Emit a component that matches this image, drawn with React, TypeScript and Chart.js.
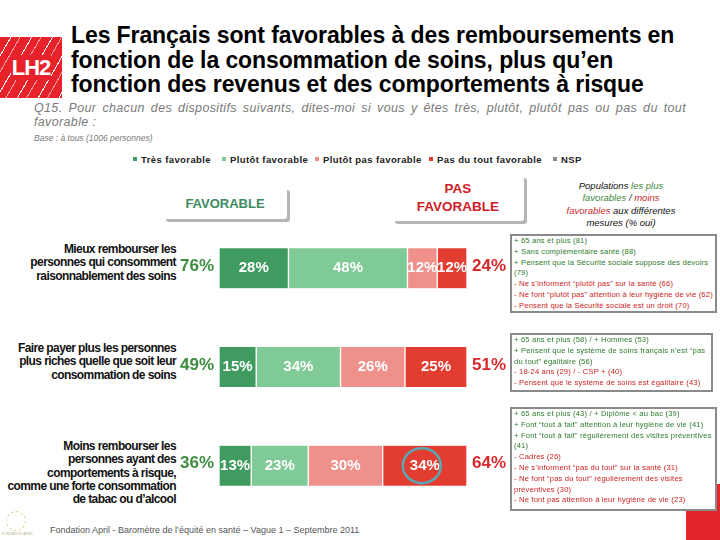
import React, { useEffect, useRef } from "react";
import { Chart, registerables } from "chart.js";

Chart.register(...registerables);

const categories = [
  "Mieux rembourser les personnes qui consomment raisonnablement des soins",
  "Faire payer plus les personnes plus riches quelle que soit leur consommation de soins",
  "Moins rembourser les personnes ayant des comportements à risque, comme une forte consommation de tabac ou d'alcool",
];
const seriesNames = ["Très favorable", "Plutôt favorable", "Plutôt pas favorable", "Pas du tout favorable", "NSP"];
const tresFavorable = [28, 15, 13];
const plutotFavorable = [48, 34, 23];
const plutotPasFavorable = [12, 26, 30];
const pasDuToutFavorable = [12, 25, 34];
const nsp = [0, 0, 0];
const totalFavorable = [76, 49, 36];
const totalPasFavorable = [24, 51, 64];
const seriesColors = ["#3f9b5f", "#7fca97", "#ef908a", "#e33d32", "#8c8c8c"];

const labelLines = [
  ["Mieux rembourser les", "personnes qui consomment", "raisonnablement des soins"],
  ["Faire payer plus les personnes", "plus riches quelle que soit leur", "consommation de soins"],
  ["Moins rembourser les", "personnes ayant des", "comportements à risque,", "comme une forte consommation", "de tabac ou d’alcool"],
];

const boxes: { top: number; height: number; width: number; lines: { t: string; c: "g" | "r" }[] }[] = [
  {
    top: 234, height: 79, width: 207,
    lines: [
      { t: "+ 65 ans et plus (81)", c: "g" },
      { t: "+ Sans complémentaire santé (88)", c: "g" },
      { t: "+ Pensent que la Sécurité sociale suppose des devoirs (79)", c: "g" },
      { t: "- Ne s’informent “plutôt pas” sur la santé (66)", c: "r" },
      { t: "- Ne font “plutôt pas” attention à leur hygiène de vie (62)", c: "r" },
      { t: "- Pensent que la Sécurité sociale est un droit (70)", c: "r" },
    ],
  },
  {
    top: 333, height: 59, width: 203,
    lines: [
      { t: "+ 65 ans et plus (58) / + Hommes (53)", c: "g" },
      { t: "+ Pensent que le système de soins français n’est “pas du tout” égalitaire (56)", c: "g" },
      { t: "- 18-24 ans (29) / - CSP + (40)", c: "r" },
      { t: "- Pensent que le système de soins est égalitaire (43)", c: "r" },
    ],
  },
  {
    top: 407, height: 104, width: 207,
    lines: [
      { t: "+ 65 ans et plus (43) / + Diplôme < au bac (39)", c: "g" },
      { t: "+ Font “tout à fait” attention à leur hygiène de vie (41)", c: "g" },
      { t: "+ Font “tout à fait” régulièrement des visites préventives (41)", c: "g" },
      { t: "- Cadres (26)", c: "r" },
      { t: "- Ne s’informent “pas du tout” sur la santé (31)", c: "r" },
      { t: "- Ne font “pas du tout” régulièrement des visites préventives (30)", c: "r" },
      { t: "- Ne font pas attention à leur hygiène de vie (23)", c: "r" },
    ],
  },
];

const labelsPlugin = {
  id: "barLabels",
  afterDatasetsDraw(chart: any) {
    const ctx = chart.ctx;
    const area = chart.chartArea;
    ctx.save();
    ctx.textBaseline = "middle";
    ctx.textAlign = "center";
    for (let d = 0; d < 4; d++) {
      const meta = chart.getDatasetMeta(d);
      meta.data.forEach((bar: any, i: number) => {
        const v = chart.data.datasets[d].data[i];
        if (!v) return;
        ctx.font = "bold 15px 'Liberation Sans', Arial, sans-serif";
        ctx.fillStyle = "#ffffff";
        ctx.fillText(v + "%", (bar.x + bar.base) / 2, bar.y);
      });
    }
    const m0 = chart.getDatasetMeta(0);
    m0.data.forEach((bar: any, i: number) => {
      ctx.font = "bold 17px 'Liberation Sans', Arial, sans-serif";
      ctx.fillStyle = "#3b8d3e";
      ctx.fillText(totalFavorable[i] + "%", area.left - 22, bar.y - 2);
      ctx.fillStyle = "#d7282c";
      ctx.fillText(totalPasFavorable[i] + "%", area.right + 22, bar.y - 2);
    });
    // highlight circle on the last segment of the third row
    const b = chart.getDatasetMeta(3).data[2];
    if (b) {
      ctx.beginPath();
      ctx.ellipse((b.x + b.base) / 2 - 3, b.y, 19, 17.5, 0, 0, Math.PI * 2);
      ctx.strokeStyle = "#5aa6b3";
      ctx.lineWidth = 2.5;
      ctx.stroke();
    }
    ctx.restore();
  },
};

function BarChart() {
  const ref = useRef<HTMLCanvasElement>(null);
  useEffect(() => {
    if (!ref.current) return;
    const data = [tresFavorable, plutotFavorable, plutotPasFavorable, pasDuToutFavorable, nsp];
    const chart = new Chart(ref.current, {
      type: "bar",
      data: {
        labels: categories,
        datasets: data.map((vals, k) => ({
          label: seriesNames[k],
          data: vals,
          backgroundColor: seriesColors[k],
          borderColor: "#ffffff",
          borderWidth: { left: 1, right: 1, top: 0, bottom: 0 },
          borderSkipped: false,
          barThickness: 40,
        })),
      },
      options: {
        indexAxis: "y",
        animation: false,
        responsive: false,
        maintainAspectRatio: false,
        devicePixelRatio: 1,
        layout: { padding: { left: 49, right: 53, top: 0, bottom: 0 } },
        plugins: { legend: { display: false }, tooltip: { enabled: false } },
        scales: {
          x: { stacked: true, min: 0, max: 100, display: false },
          y: { stacked: true, display: false },
        },
      },
      plugins: [labelsPlugin],
    } as any);
    return () => chart.destroy();
  }, []);
  return (
    <canvas
      ref={ref}
      width={350}
      height={296}
      style={{ position: "absolute", left: 170, top: 219, width: 350, height: 296 }}
    />
  );
}

const ff = "'Liberation Sans', Arial, sans-serif";

export default function App() {
  const legendPos = [133, 222, 315, 429, 553];
  const labelTops = [243, 342, 440];
  return (
    <div
      style={{
        position: "fixed", left: 0, top: 0, width: 720, height: 540, background: "#fff",
        overflow: "hidden", fontFamily: ff,
      }}
    >
      {/* decoration behind the third box */}
      <div style={{ position: "absolute", left: 686, top: 484, width: 34, height: 56, background: "#e4262c" }} />
      {/* Logo */}
      <div
        style={{
          position: "absolute", left: 0, top: 37, width: 62, height: 61,
          background: "repeating-linear-gradient(120deg, #e8222a 0px, #e8222a 9px, #ffffff 9px, #ffffff 10px, #e8222a 10px, #e8222a 17px, #f5a0a0 17px, #f5a0a0 18px)",
          color: "#fff", fontWeight: "bold", fontSize: 22, lineHeight: "61px", textAlign: "center",
          letterSpacing: -1,
        }}
      >
        <span style={{ background: "#e8222a", padding: "0 1px" }}>LH2</span>
      </div>
      {/* Title */}
      <div
        style={{
          position: "absolute", left: 71, top: 23, width: 645, fontSize: 23, fontWeight: "bold",
          lineHeight: "24.5px", color: "#000", letterSpacing: -0.1, whiteSpace: "nowrap",
        }}
      >
        Les Français sont favorables à des remboursements en<br />
        fonction de la consommation de soins, plus qu’en<br />
        fonction des revenus et des comportements à risque
      </div>
      {/* Question */}
      <div
        style={{
          position: "absolute", left: 34, top: 101, width: 652, fontSize: 12.5, fontStyle: "italic",
          color: "#7a7a7a", lineHeight: "14px", textAlign: "justify", textAlignLast: "left" as any,
          letterSpacing: 0.35,
        }}
      >
        Q15. Pour chacun des dispositifs suivants, dites-moi si vous y êtes très, plutôt, plutôt pas ou pas du tout favorable :
      </div>
      <div style={{ position: "absolute", left: 34, top: 133, fontSize: 8.5, fontStyle: "italic", color: "#7a7a7a" }}>
        Base : à tous (1006 personnes)
      </div>
      {/* Legend */}
      {seriesNames.map((n, k) => (
        <div
          key={n}
          style={{
            position: "absolute", left: legendPos[k], top: 154, fontSize: 9.5, fontWeight: "bold",
            color: "#222", whiteSpace: "nowrap", lineHeight: "12px", letterSpacing: 0.4,
          }}
        >
          <span
            style={{
              display: "inline-block", width: 4, height: 4, background: seriesColors[k],
              marginRight: 4, verticalAlign: "middle", position: "relative", top: -1,
            }}
          />
          {n}
        </div>
      ))}
      {/* FAVORABLE box */}
      <div
        style={{
          position: "absolute", left: 163, top: 187, width: 124, height: 32, borderRadius: 3,
          boxShadow: "3px 3px 0 #b5b5b5", background: "#fff", color: "#3d8b5f", fontWeight: "bold",
          fontSize: 13, display: "flex", alignItems: "center", justifyContent: "center",
        }}
      >
        FAVORABLE
      </div>
      <div
        style={{
          position: "absolute", left: 392, top: 175, width: 132, height: 46, borderRadius: 3,
          boxShadow: "3px 3px 0 #b5b5b5", background: "#fff", color: "#cf2027", fontWeight: "bold",
          fontSize: 13.5, display: "flex", alignItems: "center", justifyContent: "center",
          textAlign: "center", lineHeight: "18px",
        }}
      >
        PAS<br />FAVORABLE
      </div>
      {/* Populations text */}
      <div
        style={{
          position: "absolute", left: 550, top: 180, width: 142, textAlign: "center", fontSize: 9.5,
          fontStyle: "italic", color: "#111", lineHeight: "12.3px",
        }}
      >
        Populations <span style={{ color: "#3c8a3c" }}>les plus<br />favorables</span> /{" "}
        <span style={{ color: "#cc2a2a" }}>moins<br />favorables</span> aux différentes<br />mesures (% oui)
      </div>
      {/* Row labels */}
      {labelLines.map((lines, i) => (
        <div
          key={i}
          style={{
            position: "absolute", right: 720 - 176, top: labelTops[i], textAlign: "right", fontSize: 12,
            fontWeight: "bold", lineHeight: "13.3px", letterSpacing: -0.6, color: "#111", whiteSpace: "nowrap",
          }}
        >
          {lines.map((l, j) => (
            <div key={j}>{l}</div>
          ))}
        </div>
      ))}
      <BarChart />
      {/* Right boxes */}
      {boxes.map((b, i) => (
        <div
          key={i}
          style={{
            position: "absolute", left: 510, top: b.top, width: b.width, height: b.height,
            border: "2px solid #8a8a8a", padding: "0 2px", boxSizing: "border-box" as any, fontSize: 7.6,
            lineHeight: "10.8px", background: "#fff", letterSpacing: 0.18, overflow: "hidden",
          }}
        >
          {b.lines.map((l, j) => (
            <div key={j} style={{ color: l.c === "g" ? "#2d7a2d" : "#cc2222" }}>
              {l.t}
            </div>
          ))}
        </div>
      ))}
      <div
        style={{
          position: "absolute", left: 6, top: 511, width: 18, height: 18, borderRadius: "50%",
          border: "1px dashed #d8d39a",
        }}
      />
      <div style={{ position: "absolute", left: 2, top: 532, fontSize: 3.5, color: "#b8b48a" }}>FONDATION APRIL</div>
      <div style={{ position: "absolute", left: 50, top: 525, fontSize: 9, color: "#555" }}>
        Fondation April - Baromètre de l’équité en santé – Vague 1 – Septembre 2011
      </div>
    </div>
  );
}
